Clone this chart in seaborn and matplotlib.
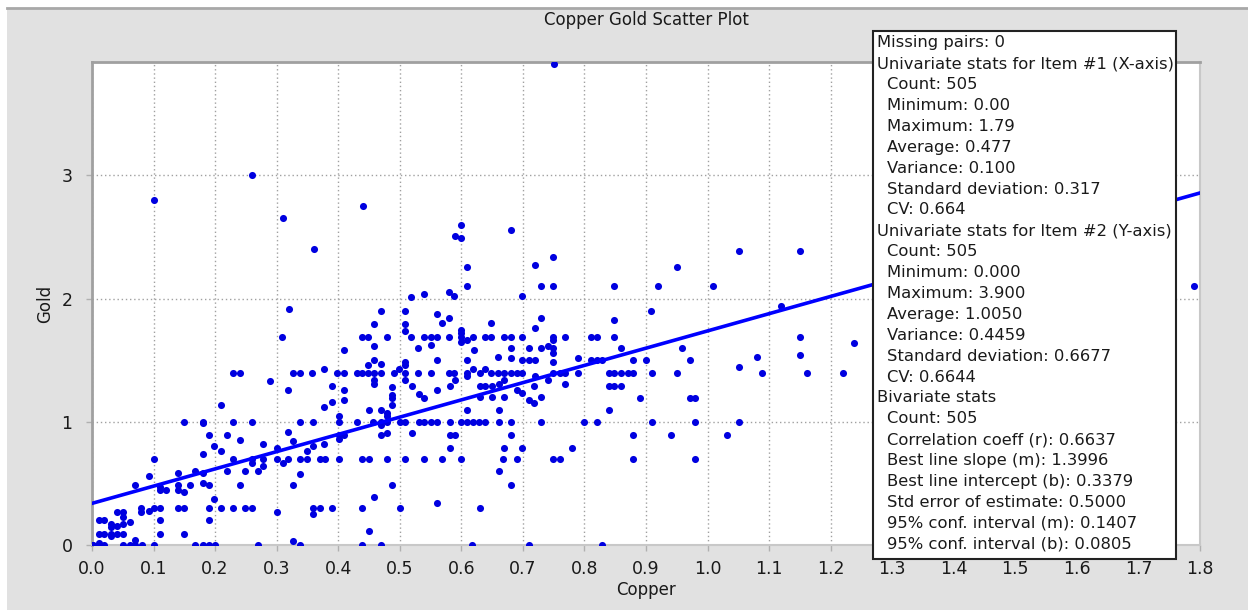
import matplotlib
matplotlib.use("Agg")
import matplotlib.pyplot as plt
import matplotlib.patches as mpatches
import pandas as pd
import seaborn as sns

# ---- values ----
# points sitting on common assay values (gold fixed, copper varies)
gold_000_cu = [0.0, 0.002, 0.012, 0.02, 0.051, 0.062, 0.07, 0.082, 0.1, 0.168, 0.18, 0.19, 0.2, 0.27,
               0.338, 0.439, 0.469, 0.618, 0.71, 0.829]
gold_030_cu = [0.08, 0.1, 0.11, 0.14, 0.15, 0.19, 0.21, 0.229, 0.248, 0.26, 0.359, 0.37, 0.39, 0.439, 0.5, 0.63]
gold_070_cu = [0.1, 0.229, 0.26, 0.278, 0.30, 0.318, 0.338, 0.35, 0.37, 0.379, 0.401, 0.439, 0.45, 0.48, 0.509,
               0.539, 0.568, 0.6, 0.668, 0.69, 0.749, 0.76, 0.879, 0.979]
gold_100_cu = [0.15, 0.18, 0.229, 0.26, 0.338, 0.359, 0.401, 0.43, 0.457, 0.469, 0.48, 0.501, 0.509, 0.531, 0.539,
               0.55, 0.561, 0.581, 0.6, 0.609, 0.619, 0.628, 0.639, 0.661, 0.68, 0.73, 0.8, 0.82, 0.909, 0.979, 1.051]
gold_140_cu = [0.229, 0.241, 0.327, 0.338, 0.358, 0.398, 0.409, 0.43, 0.438, 0.449, 0.458, 0.469, 0.49, 0.508,
               0.53, 0.55, 0.58, 0.588, 0.63, 0.649, 0.66, 0.669, 0.68, 0.69, 0.699, 0.749, 0.76, 0.768, 0.79,
               0.84, 0.848, 0.86, 0.871, 0.879, 0.909, 0.951, 1.089, 1.161, 1.22]
gold_150_cu = [0.458, 0.56, 0.61, 0.699, 0.71, 0.719, 0.81, 0.82, 0.829, 0.879, 0.9, 0.971]
gold_169_cu = [0.308, 0.438, 0.449, 0.48, 0.519, 0.539, 0.55, 0.56, 0.58, 0.599, 0.619, 0.638, 0.649, 0.669,
               0.68, 0.699, 0.749, 0.768, 0.81, 0.82, 0.848, 1.15]
gold_210_cu = [0.61, 0.73, 0.749, 0.848, 0.92, 1.009, 1.79]

# the rest, as (copper, gold) pairs
scattered_points = [
    (0.289, 1.33), (0.318, 1.26), (0.21, 1.14), (0.18, 0.99), (0.318, 0.92), (0.19, 0.89), (0.22, 0.89),
    (0.198, 0.805), (0.24, 0.85), (0.278, 0.82), (0.21, 0.765), (0.18, 0.74), (0.30, 0.79), (0.31, 0.665),
    (0.26, 0.665), (0.278, 0.64), (0.168, 0.6), (0.248, 0.6), (0.27, 0.6), (0.22, 0.6), (0.14, 0.585),
    (0.18, 0.585), (0.092, 0.557), (0.07, 0.487), (0.16, 0.487), (0.14, 0.487), (0.18, 0.5), (0.19, 0.487),
    (0.24, 0.487), (0.11, 0.473), (0.12, 0.446), (0.14, 0.446), (0.15, 0.43), (0.11, 0.446), (0.198, 0.376),
    (0.08, 0.27), (0.092, 0.28), (0.30, 0.27), (0.04, 0.27), (0.051, 0.27), (0.051, 0.23), (0.012, 0.2),
    (0.02, 0.2), (0.031, 0.17), (0.031, 0.143), (0.04, 0.157), (0.051, 0.17), (0.062, 0.184), (0.11, 0.2),
    (0.19, 0.2), (0.012, 0.086), (0.02, 0.086), (0.031, 0.086), (0.031, 0.073), (0.04, 0.086),
    (0.051, 0.086), (0.07, 0.043), (0.11, 0.086), (0.15, 0.086), (0.012, 0.016),
    (0.327, 0.843), (0.327, 0.487), (0.327, 0.03),
    (0.338, 0.573), (0.35, 0.765), (0.359, 0.8), (0.377, 0.82), (0.377, 1.12), (0.39, 1.16), (0.39, 1.29),
    (0.401, 1.045), (0.401, 0.894), (0.401, 0.86), (0.409, 0.894), (0.409, 1.26), (0.409, 1.18),
    (0.458, 1.34), (0.458, 1.31), (0.45, 1.095), (0.469, 1.095), (0.469, 0.97), (0.469, 0.89),
    (0.48, 1.07), (0.48, 1.05), (0.48, 0.905), (0.488, 1.28), (0.488, 1.22), (0.488, 1.19), (0.488, 1.135),
    (0.488, 0.49), (0.458, 0.392), (0.45, 0.116), (0.509, 1.34), (0.52, 1.29), (0.52, 0.905),
    (0.531, 1.225), (0.539, 1.197), (0.561, 1.26), (0.561, 0.338), (0.581, 1.29), (0.581, 0.894),
    (0.589, 0.894), (0.581, 0.79), (0.589, 1.34), (0.61, 1.095), (0.63, 1.29), (0.63, 1.2), (0.639, 1.29),
    (0.65, 1.29), (0.65, 1.2), (0.661, 1.31), (0.661, 1.095), (0.661, 0.6), (0.669, 1.34), (0.669, 1.2),
    (0.669, 0.79), (0.68, 0.894), (0.68, 0.49), (0.69, 1.26), (0.698, 1.23), (0.698, 0.79), (0.71, 1.18),
    (0.718, 1.15), (0.718, 1.29), (0.73, 1.2), (0.74, 1.34), (0.769, 1.31), (0.78, 0.79), (0.359, 0.25),
    (0.31, 2.65), (0.44, 2.75), (0.36, 2.4), (0.6, 2.6), (0.59, 2.51), (0.6, 2.49), (0.68, 2.56),
    (0.61, 2.26), (0.719, 2.27), (0.749, 2.34), (0.699, 2.022), (0.58, 2.054), (0.588, 2.022),
    (0.519, 2.01), (0.539, 2.04), (0.32, 1.917), (0.469, 1.9), (0.508, 1.9), (0.508, 1.79), (0.508, 1.736),
    (0.458, 1.79), (0.56, 1.874), (0.58, 1.846), (0.569, 1.803), (0.649, 1.803), (0.73, 1.846),
    (0.719, 1.763), (0.599, 1.744), (0.599, 1.717), (0.599, 1.647), (0.61, 1.66), (0.458, 1.613),
    (0.55, 1.627), (0.53, 1.6), (0.62, 1.586), (0.749, 1.663), (0.749, 1.6), (0.749, 1.555), (0.68, 1.6),
    (0.71, 1.6), (0.73, 1.6), (0.74, 1.613), (0.409, 1.586), (0.469, 1.473), (0.449, 1.46), (0.508, 1.487),
    (0.508, 1.46), (0.66, 1.527), (0.68, 1.514), (0.749, 1.487), (0.79, 1.514), (0.499, 1.427),
    (0.61, 1.373), (0.638, 1.43), (0.719, 1.375), (0.619, 1.427), (0.377, 1.427), (0.61, 1.4),
    (1.051, 2.39), (1.15, 2.39), (0.951, 2.257), (0.848, 1.83), (0.908, 1.9), (1.12, 1.94), (1.15, 1.54),
    (0.86, 1.595), (0.959, 1.595), (1.081, 1.527), (1.051, 1.446), (1.238, 1.636), (0.84, 1.29),
    (0.848, 1.29), (0.86, 1.29), (0.89, 1.195), (0.971, 1.195), (0.979, 1.195), (0.84, 1.095),
    (0.879, 0.89), (0.94, 0.89), (1.031, 0.89), (0.75, 3.9), (0.1, 2.8), (0.26, 3.0),
]

# regression line as reported in the stats box
slope = 1.3996
intercept = 0.3379
line_cu = [0.0, 1.8]

stats_lines = [
    ("Missing pairs: 0", 0),
    ("Univariate stats for Item #1 (X-axis)", 0),
    ("Count: 505", 1), ("Minimum: 0.00", 1), ("Maximum: 1.79", 1), ("Average: 0.477", 1),
    ("Variance: 0.100", 1), ("Standard deviation: 0.317", 1), ("CV: 0.664", 1),
    ("Univariate stats for Item #2 (Y-axis)", 0),
    ("Count: 505", 1), ("Minimum: 0.000", 1), ("Maximum: 3.900", 1), ("Average: 1.0050", 1),
    ("Variance: 0.4459", 1), ("Standard deviation: 0.6677", 1), ("CV: 0.6644", 1),
    ("Bivariate stats", 0),
    ("Count: 505", 1), ("Correlation coeff (r): 0.6637", 1), ("Best line slope (m): 1.3996", 1),
    ("Best line intercept (b): 0.3379", 1), ("Std error of estimate: 0.5000", 1),
    ("95% conf. interval (m): 0.1407", 1), ("95% conf. interval (b): 0.0805", 1),
]

# ---- build the table ----
rows = []
for au, cus in [(0.0, gold_000_cu), (0.3, gold_030_cu), (0.7, gold_070_cu), (1.0, gold_100_cu),
                (1.4, gold_140_cu), (1.5, gold_150_cu), (1.69, gold_169_cu), (2.1, gold_210_cu)]:
    rows += [(cu, au) for cu in cus]
rows += scattered_points
df = pd.DataFrame(rows, columns=["Copper", "Gold"])
line_df = pd.DataFrame({"Copper": line_cu, "Gold": [intercept + slope * c for c in line_cu]})

# ---- figure ----
W, H = 1248, 612
fig = plt.figure(figsize=(W / 100, H / 100), dpi=100, facecolor="white")

def fx(px):
    return px / W

def fy(py):
    return 1 - py / H

# grey window background
fig.patches.append(mpatches.Rectangle((fx(7), fy(610)), fx(W - 7), (610 - 8) / H, transform=fig.transFigure,
                                      facecolor="#e1e1e1", edgecolor="none", zorder=-2))
fig.lines.append(plt.Line2D([fx(7), 1], [fy(8), fy(8)], transform=fig.transFigure, color="#a8a8a8",
                            lw=2, zorder=-1))

ax = fig.add_axes([fx(92), fy(545), fx(1200 - 92), (545 - 62) / H])
ax.set_facecolor("white")

sns.scatterplot(data=df, x="Copper", y="Gold", ax=ax, color="#0000e0", s=26, linewidth=0, zorder=3)
sns.lineplot(data=line_df, x="Copper", y="Gold", ax=ax, color="#0000ff", lw=2.6, zorder=4)

ax.set_xlim(0, 1.8)
ax.set_ylim(0, 3.92)
ax.set_xticks([i / 10 for i in range(19)])
ax.set_xticklabels([f"{i / 10:.1f}" for i in range(19)])
ax.set_yticks([0, 1, 2, 3])
ax.grid(True, color="#a0a0a0", linestyle=(0, (1, 2)), linewidth=1)
ax.set_axisbelow(True)
ax.tick_params(axis="both", length=4, width=1, color="#b0b0b0", labelsize=12.5, labelcolor="#1a1a1a")
ax.tick_params(axis="x", pad=7)
ax.tick_params(axis="y", pad=10)
for side in ["top", "left"]:
    ax.spines[side].set_color("#a0a0a0")
    ax.spines[side].set_linewidth(2)
for side in ["bottom", "right"]:
    ax.spines[side].set_color("#c8c8c8")
    ax.spines[side].set_linewidth(1.5)

ax.set_xlabel("Copper", fontsize=12, color="#1a1a1a")
ax.set_ylabel("Gold", fontsize=12, color="#1a1a1a")
ax.xaxis.set_label_coords(0.5, (545 - 590) / 483)
ax.xaxis.label.set_va("center")
ax.yaxis.set_label_coords((45 - 92) / 1108, 0.5)
ax.yaxis.label.set_va("center")

fig.text(fx(646), fy(20), "Copper Gold Scatter Plot", ha="center", va="center", fontsize=12, color="#1a1a1a")

# stats box
fig.patches.append(mpatches.Rectangle((fx(872.7), fy(559)), fx(1175.7 - 872.7), (559 - 31) / H,
                                      transform=fig.transFigure, facecolor="white", edgecolor="#222222",
                                      lw=1.5, zorder=5))
for i, (txt, indent) in enumerate(stats_lines):
    fig.text(fx(877 + 10 * indent), fy(42.7 + 20.9 * i), txt, ha="left", va="center", fontsize=11.8,
             color="#1a1a1a", zorder=6)

fig.savefig("out.png", dpi=100, facecolor=fig.get_facecolor())
